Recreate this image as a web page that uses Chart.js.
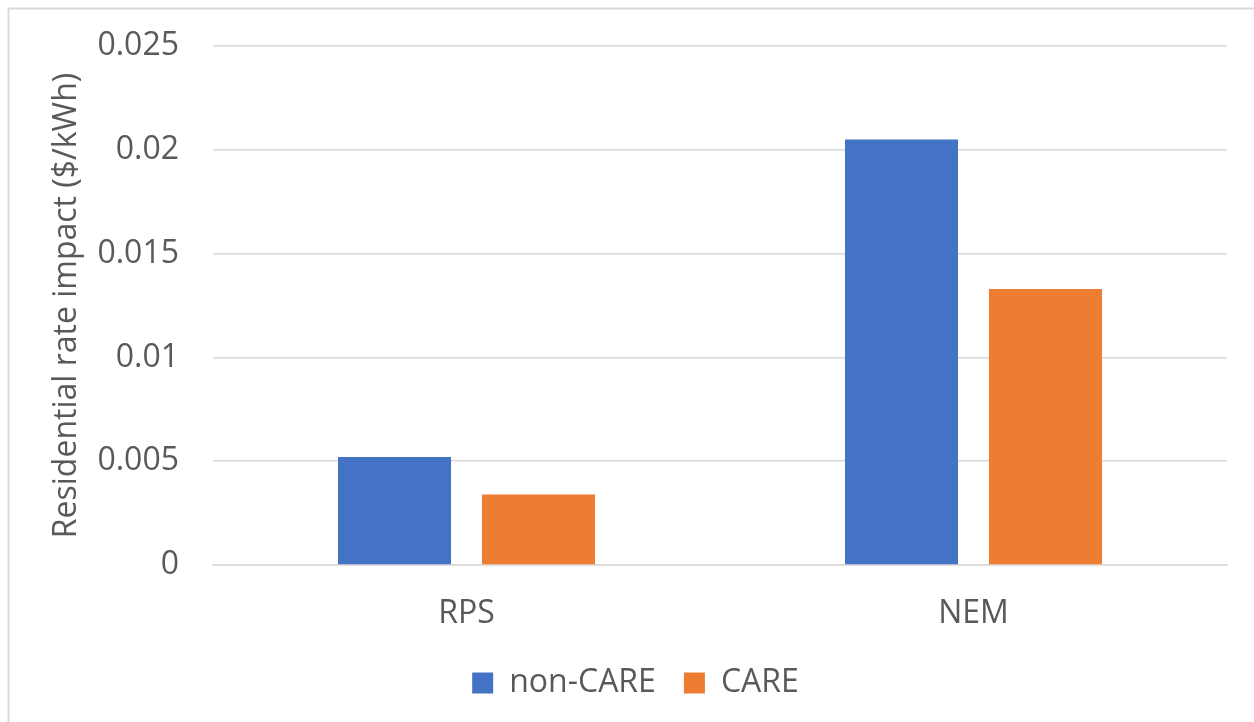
<!DOCTYPE html>
<html>
<head>
<meta charset="utf-8">
<script src="https://cdn.jsdelivr.net/npm/chart.js@4"></script>
<style>
  html, body { margin: 0; padding: 0; background: #fff; overflow: hidden; }
  #wrap { position: relative; width: 1254px; height: 722px; }
</style>
</head>
<body>
<div id="wrap"><canvas id="rateChart" width="1254" height="722"></canvas></div>
<script>
// chart values
const categories = ['RPS', 'NEM'];
const nonCare = [0.0052, 0.0205];
const care = [0.0034, 0.0133];
const seriesNames = ['non-CARE', 'CARE'];
const yTicks = [0, 0.005, 0.01, 0.015, 0.02, 0.025];

const textColor = '#595959';
const fontFamily = "'Open Sans', sans-serif";

// light frame on top/left edge like the exported chart
const framePlugin = {
    id: 'frame',
    beforeDraw(chart) {
        const ctx = chart.ctx;
        ctx.save();
        ctx.strokeStyle = '#d9d9d9';
        ctx.lineWidth = 2;
        ctx.beginPath();
        ctx.moveTo(8.5, chart.height);
        ctx.lineTo(8.5, 8.5);
        ctx.lineTo(chart.width, 8.5);
        ctx.stroke();
        ctx.restore();
    }
};

const ctx = document.getElementById('rateChart');
new Chart(ctx.getContext('2d'), {
    type: 'bar',
    data: {
        labels: categories,
        datasets: [
            { label: seriesNames[0], data: nonCare, backgroundColor: '#4472C4' },
            { label: seriesNames[1], data: care, backgroundColor: '#ED7D31' }
        ]
    },
    options: {
        responsive: false,
        animation: false,
        layout: { padding: { left: 44, right: 27, top: 46, bottom: 13 } },
        datasets: { bar: { categoryPercentage: 0.568, barPercentage: 0.785 } },
        plugins: {
            tooltip: { enabled: false },
            legend: {
                position: 'bottom',
                labels: {
                    boxWidth: 21,
                    boxHeight: 21,
                    padding: 28,
                    color: textColor,
                    font: { family: fontFamily, size: 32 }
                }
            }
        },
        scales: {
            x: {
                grid: { display: false, drawTicks: false },
                border: { display: true, color: '#d9d9d9', width: 1.5 },
                ticks: { color: textColor, padding: 30, font: { family: fontFamily, size: 32 } },
                afterFit: function(scale) { scale.height = 74; }
            },
            y: {
                min: 0,
                max: 0.025,
                afterBuildTicks: function(scale) {
                    scale.ticks = yTicks.map(v => ({ value: v }));
                },
                grid: { color: '#d9d9d9', lineWidth: 1.5, drawTicks: false },
                border: { display: false },
                ticks: {
                    color: textColor,
                    padding: 34,
                    font: { family: fontFamily, size: 32 },
                    callback: function(value) { return String(value); }
                },
                title: {
                    display: true,
                    text: 'Residential rate impact ($/kWh)',
                    color: textColor,
                    font: { family: fontFamily, size: 32 }
                },
                afterFit: function(scale) {
                    scale.width = 169;
                    // tick padding would otherwise push the plot top down
                    scale.paddingTop = 0;
                    scale.paddingBottom = 0;
                }
            }
        }
    },
    plugins: [framePlugin]
});
</script>
</body>
</html>
